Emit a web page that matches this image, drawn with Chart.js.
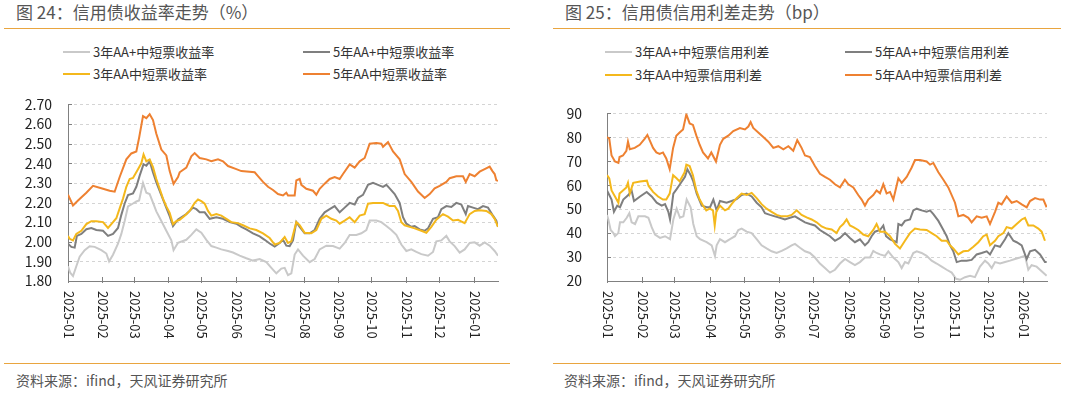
<!DOCTYPE html>
<html lang="zh-CN">
<head>
<meta charset="utf-8">
<title>信用债收益率与信用利差走势</title>
<script src="https://cdn.jsdelivr.net/npm/chart.js@4.4.1/dist/chart.umd.min.js"></script>
<style>
  html, body { margin: 0; padding: 0; background: #fff; }
  body { width: 1080px; height: 394px; position: relative; overflow: hidden;
         font-family: "Noto Sans CJK SC", "Noto Sans", sans-serif; color: #333; }
  .title { position: absolute; top: 0; font-size: 17px; line-height: 24px; color: #555; white-space: nowrap; }
  .rule { position: absolute; height: 1px; background: #e9a53f; }
  .lg { position: absolute; font-size: 13px; line-height: 16px; color: #333; white-space: nowrap; }
  .lg i { display: inline-block; width: 27px; height: 2px; vertical-align: middle; margin-right: 3px; position: relative; top: -1px; }
  .src { position: absolute; top: 371px; font-size: 14px; line-height: 18px; color: #555; white-space: nowrap; }
  canvas { position: absolute; }
</style>
</head>
<body>

<div class="title" style="left:16px;">图 24：信用债收益率走势（%）</div>
<div class="rule" style="left:4px; width:506px; top:28px;"></div>
<div class="lg" style="left:63px; top:44px;"><i style="background:#c9c9c9"></i>3年AA+中短票收益率</div>
<div class="lg" style="left:303px; top:44px;"><i style="background:#7f7f7f"></i>5年AA+中短票收益率</div>
<div class="lg" style="left:63px; top:66px;"><i style="background:#f4b81c"></i>3年AA中短票收益率</div>
<div class="lg" style="left:303px; top:66px;"><i style="background:#ee8131"></i>5年AA中短票收益率</div>
<canvas id="yieldChart" width="515" height="272" style="left:0; top:88px;"></canvas>
<div class="rule" style="left:4px; width:506px; top:363px;"></div>
<div class="src" style="left:16px;">资料来源：ifind，天风证券研究所</div>

<div class="title" style="left:565px;">图 25：信用债信用利差走势（bp）</div>
<div class="rule" style="left:553px; width:508px; top:28px;"></div>
<div class="lg" style="left:605px; top:44px;"><i style="background:#c9c9c9"></i>3年AA+中短票信用利差</div>
<div class="lg" style="left:845px; top:44px;"><i style="background:#7f7f7f"></i>5年AA+中短票信用利差</div>
<div class="lg" style="left:605px; top:67px;"><i style="background:#f4b81c"></i>3年AA中短票信用利差</div>
<div class="lg" style="left:845px; top:67px;"><i style="background:#ee8131"></i>5年AA中短票信用利差</div>
<canvas id="spreadChart" width="520" height="272" style="left:540px; top:88px;"></canvas>
<div class="rule" style="left:553px; width:508px; top:363px;"></div>
<div class="src" style="left:564px;">资料来源：ifind，天风证券研究所</div>

<script>
// x values are days since 2025-01-01
const monthDays = [0, 31, 59, 90, 120, 151, 181, 212, 243, 273, 304, 334, 365];
const monthLabels = ['2025-01', '2025-02', '2025-03', '2025-04', '2025-05', '2025-06', '2025-07',
                     '2025-08', '2025-09', '2025-10', '2025-11', '2025-12', '2026-01'];

const yieldTicks = [1.8, 1.9, 2.0, 2.1, 2.2, 2.3, 2.4, 2.5, 2.6, 2.7];
const spreadTicks = [20, 30, 40, 50, 60, 70, 80, 90];

// ---- 图24 收益率 (%) ----
const yld3AAplusX = [0,2,4.5,7.5,10.5,15,19.5,24,30,34.5,37,40.5,45,48,51,54,58.5,61.5,64,67.5,70.5,73.5,76.5,79.5,84,88.5,93,95,99,
  106.5,111,115.5,120,124.5,129,133.5,138,144,148.5,154.5,160.5,166.5,172.5,178.5,183,187.5,192,195,198,201,204,207,211.5,217.5,222,226.5,232.5,238.5,
  244.5,249,253.5,259.5,264,268.5,271.5,277.5,282,286.5,291,295.5,300,304.5,309,313.5,318,324,328.5,331.5,336,340.5,343.5,348,352.5,357,361.5,366,370.5,375,379.5,384,387];
const yld3AAplusY = [1.875,1.842,1.825,1.875,1.924,1.957,1.977,1.974,1.957,1.94,1.90,1.934,1.99,2.04,2.106,2.18,2.195,2.205,2.21,2.30,2.25,2.243,2.20,2.155,2.106,2.056,2.007,1.957,1.995,
  2.01,2.035,2.063,2.046,2.01,1.978,1.97,1.961,1.953,1.945,1.929,1.916,1.904,1.912,1.896,1.867,1.839,1.863,1.867,1.83,1.839,1.935,1.961,1.929,1.896,1.912,1.961,1.98,1.978,
  1.965,1.994,2.035,2.035,2.043,2.06,2.108,2.108,2.10,2.08,2.06,2.035,1.986,1.953,1.961,1.948,1.937,1.929,1.948,2.002,2.007,2.03,2.002,1.978,1.945,1.961,1.994,1.997,1.98,1.997,1.98,1.953,1.929];

const yld5AAplusX = [0,3,6,8,12,16.5,21,25.5,31.5,36,40.5,45,48,51,54,58.5,61.5,64.5,68,70.5,73.5,76.5,79.5,84,88.5,91.5,94.5,99,
  106.5,112.5,115.5,118.5,123,127.5,133.5,139.5,145.5,151.5,156,160.5,166.5,172.5,177,181.5,186,190.5,193.5,196.5,199.5,202.5,205.5,208.5,213,217.5,222,226.5,231,235.5,240,
  244.5,249,253.5,258,261,265.5,270,274.5,279,283.5,286.5,289.5,294,298.5,301.5,304.5,309,312,316.5,321,324,328.5,333,336,340.5,345,349.5,354,358,360,364.5,369,373.5,378,382.5,385.5,387];
const yld5AAplusY = [1.99,1.974,1.97,2.03,2.04,2.064,2.07,2.06,2.056,2.03,2.04,2.07,2.137,2.195,2.238,2.246,2.28,2.337,2.395,2.387,2.41,2.353,2.303,2.238,2.172,2.13,2.08,2.114,
  2.141,2.174,2.166,2.15,2.15,2.117,2.125,2.117,2.10,2.092,2.076,2.063,2.043,2.027,2.01,1.991,1.975,1.994,2.01,1.98,1.978,2.007,2.10,2.076,2.043,2.043,2.06,2.117,2.15,2.166,2.182,
  2.15,2.174,2.198,2.19,2.223,2.239,2.29,2.30,2.29,2.28,2.29,2.272,2.243,2.198,2.125,2.092,2.076,2.08,2.063,2.056,2.068,2.117,2.125,2.166,2.182,2.177,2.198,2.19,2.141,2.182,2.174,2.166,2.182,2.174,2.133,2.108,2.076];

const yld3AAX = [0,1.5,4.5,7.5,12,16.5,21,25.5,31.5,36,39,43.5,46.5,49.5,52.5,55.5,58.5,63,66,68,70.5,73.5,76.5,79.5,82.5,85.5,88.5,91.5,94.5,97.5,
  100.5,105,109.5,114,117,120,123,126,129,133.5,138,142.5,147,153,157.5,163.5,169.5,175.5,181.5,186,190.5,195,198,201,205.5,208.5,213,219,223.5,228,232.5,237,241.5,
  244.5,249,253.5,258,262.5,267,270,274.5,283.5,286.5,289.5,294,297,300,303,307.5,312,318,322.5,327,331.5,337.5,342,346.5,351,357,361.5,366,370.5,376.5,381,384,387];
const yld3AAY = [2.03,2.015,2.007,2.04,2.056,2.09,2.105,2.105,2.10,2.07,2.09,2.12,2.17,2.22,2.28,2.32,2.325,2.37,2.40,2.445,2.41,2.42,2.38,2.32,2.27,2.22,2.18,2.147,2.09,2.105,
  2.112,2.133,2.157,2.198,2.215,2.207,2.194,2.157,2.133,2.141,2.133,2.117,2.10,2.095,2.084,2.068,2.06,2.043,2.019,1.986,1.994,2.024,1.994,2.002,2.10,2.084,2.046,2.043,2.06,2.117,2.133,2.117,2.108,
  2.092,2.108,2.125,2.10,2.133,2.141,2.194,2.198,2.198,2.19,2.182,2.182,2.157,2.10,2.084,2.076,2.068,2.056,2.046,2.076,2.112,2.141,2.128,2.108,2.112,2.095,2.141,2.157,2.16,2.157,2.141,2.117,2.076];

const yld5AAX = [0,4.5,9,16.5,22.5,31.5,37.5,42,46.5,52.5,57,61.5,64,67.5,70.5,73.5,76.5,79.5,84,88.5,91.5,95,99,
  100.5,106.5,111,114,118.5,124.5,129,135,139.5,144,151.5,156,168,171,175.5,180,184.5,189,193.5,196.5,198,204,205.5,208.5,210,214.5,220.5,223.5,226.5,231,235.5,240,
  244.5,247.5,253.5,258,262.5,267,271.5,277.5,282,283.5,288,292.5,298.5,303,309,315,321,325.5,330,334.5,340.5,343.5,349.5,355.5,358,361.5,366,370.5,375,379.5,382,384,385.5,387];
const yld5AAY = [2.24,2.185,2.21,2.25,2.285,2.27,2.26,2.255,2.33,2.42,2.45,2.46,2.53,2.64,2.63,2.65,2.62,2.55,2.47,2.44,2.36,2.295,2.33,
  2.354,2.378,2.435,2.452,2.427,2.42,2.41,2.42,2.41,2.386,2.37,2.36,2.354,2.334,2.305,2.28,2.264,2.243,2.236,2.25,2.236,2.236,2.313,2.32,2.29,2.27,2.26,2.24,2.27,2.296,2.32,2.33,
  2.32,2.345,2.394,2.378,2.41,2.427,2.50,2.503,2.50,2.484,2.508,2.46,2.42,2.345,2.305,2.256,2.223,2.243,2.272,2.285,2.305,2.324,2.334,2.334,2.305,2.345,2.334,2.357,2.37,2.383,2.36,2.345,2.313,2.31];

// ---- 图25 信用利差 (bp) ----
const spr3AAplusX = [0,1.2,3.2,5.6,7,9.9,11.4,14.3,17.3,19.6,21.6,24.6,27.5,33.3,36.3,39.2,42.1,46.5,50.9,55.3,58.2,61.1,64,67,69.9,73.4,75.7,78.7,81.6,87.4,91.8,94.7,96.2,
  99.1,103.5,107.9,112.3,115.2,118.1,122.5,126.9,131.3,135.6,140,144.4,148.8,153.2,157.6,162,164.9,169.3,173.7,178,182.4,186.8,191.2,195.6,200,204.4,208.8,213.1,217.5,221.9,226.3,230.7,233.6,236.5,
  239.5,243.9,246.8,251.2,255.6,258.5,261.4,264.4,268.7,271.7,276,280.4,284.8,289.2,293.6,298,302.4,306.2,309.7,314.1,318.5,322.8,327.2,331.6,334.5,337.5,340.4,344.8,349.2,353.6,357.9,362.3,366.7,369.6,372.5,376.9,381.3,385.7];
const spr3AAplusY = [47.6,45.7,41.3,40,38.7,40,44.5,44.5,46.4,48.3,44.5,43.8,47,47,46.4,42.5,39.4,38,38.7,37.5,45.7,50.2,46.4,47,54,50.8,43.8,38.7,37.5,36.2,34.9,30.5,34.9,
  37.5,36.2,37.5,38.7,41.3,41.9,40.6,40,37.5,34.9,33.6,32.4,31.7,32.6,33.6,34.9,35.5,33.9,32.4,31.7,29.8,27.3,25.4,23.5,24.7,27.3,29.2,27.9,26.6,27.9,29.8,29.8,32.6,31.7,
  31.1,30.5,32.4,29.8,27.9,25.4,27.9,27.3,31.7,32.4,31.7,30.5,28.5,27.3,26,24.7,23.5,20.9,20.5,21.6,22.2,21.6,26,28.5,27.3,25.4,27.9,27.3,27.9,28.5,29.2,29.8,30.5,24.7,26.6,26,24.1,22.2];

const spr5AAplusX = [0,2,4,6.1,9,11.4,14.3,18.7,21.6,23.7,29,34.8,39.2,43.6,48,50.9,53.8,55.3,58.2,61.1,64,68.4,70.5,73.4,75.7,78.7,83.1,87.4,90.4,93.3,96.2,
  99.1,104.9,109.3,113.7,118.1,122.5,126.9,131.3,135.6,138.6,143,147.3,151.7,156.1,160.5,164.9,169.3,173.7,178,182.4,186.8,191.2,195.6,200,204.4,208.8,213.1,217.5,221.9,226.3,229.2,232.1,235.1,
  239.5,242.4,244.8,248.3,251.2,254.1,255.6,258.5,261.4,265.8,268.7,271.7,276,280.4,283.4,286.3,290.7,295.1,298,300.9,303.8,306.8,311.1,315.5,319.9,324.3,328.7,333.1,336,340.4,344.8,349.2,352.1,356.5,359.4,363.8,368.2,371.1,375.5,379.9,384.2,385.7];
const spr5AAplusY = [57.8,55.9,54,48.9,51.5,50.8,54,55.9,57.8,53.4,55.3,57.2,55.3,52.7,51.5,52.1,48.9,45.7,56.5,58.4,60.4,63.5,66.7,64.2,61.6,56.5,51.5,50.8,50.8,54,49.5,
  53.4,52.7,53.4,54.2,55.9,56.5,55.3,52.7,50.8,48.3,47.6,47,46.4,45.7,46.4,47,45.7,44.5,43.8,43.2,41.3,40,38.7,36.8,38,40,38,36.2,37.4,34.9,36.2,38.7,40.6,
  41.3,43.2,38.7,37.4,36.8,36.2,43.8,43.2,45.1,45.7,49.5,50.2,49.5,48.9,49.5,47.9,45.1,41.3,38.7,34.9,32.4,27.9,28.5,28.5,28.8,31.1,31.7,32.4,31.1,34.9,34.3,37.4,40,36.8,36.2,34.9,29.2,32.4,33,31.1,27.9,27.9];

const spr3AAX = [0,2,4,7,10,11,14,17,18.4,20,23,29,35,36.5,40.4,44.8,49.1,52,55,58,61,63.7,68.1,69.6,72.5,75.4,78.4,81.3,84.2,87.1,90.1,93,94.5,95.9,
  99.1,103.5,106.4,109.3,113.7,118.1,122.5,126.9,131.3,135.6,140,144.4,148.8,153.2,157.6,162,166.4,170.7,175.1,179.5,183.9,188.3,192.7,197.1,201.4,204.4,207.3,210.2,213.1,216.1,220.4,224.8,229.2,233.6,236.5,
  239.5,243.9,248.3,252.7,257,261.4,265.8,270.2,274.6,280.4,284.8,289.2,293.6,298,300.9,303.8,308.2,312.6,317,321.4,325.8,330.1,333.1,336,340.4,343.3,347.7,350.6,355,359.4,363.8,366.7,369.6,374,378.4,381.3,384.2];
const spr3AAY = [64.2,62.9,57.8,55.3,52.7,56.5,57.8,59.1,61,56.5,61,61.6,61.9,59.7,57.2,55.3,54,54,56.5,64.2,62.9,61.6,65.4,68.6,68,64.2,57.8,54,51.5,49.5,50.2,49.5,43.2,48.9,
  51.5,49.5,50.2,52.1,54.6,56.5,55.9,56.8,54.6,52.1,50.2,48.9,47.6,47,47,47.6,49.5,47.6,46.6,45.7,44.5,42.8,41.9,41.5,40,42.5,43.8,45.7,43.2,42.5,41.3,39.4,38.7,41.3,43.8,
  40.6,40.6,38.7,35.5,33.6,36.8,40,41.9,41.5,41.3,40,38.7,36.8,36.8,34.9,33.6,31.1,32.4,32.6,34.3,36.2,38.7,39.4,34.9,36.8,38.7,40,42.5,41.9,43.8,45.7,46.4,43.2,43.2,41.9,40.6,36.8];

const spr5AAX = [0,2,4,7,10,11,14,17,18.4,20,24.3,28.7,33,35.4,37.4,40.4,43.3,46.2,49.1,52,55,58,60.8,63.7,66.7,69.6,72.5,75.4,78.4,81.3,84.2,88.6,91.5,95.6,
  99.1,102,106.4,110.8,116.6,121,124,126,128.3,132.7,137.1,141.5,145.9,150.3,154.7,159.1,163.4,166.9,170.7,173.7,178,182.4,186.8,191.2,195.6,200,204.4,208.7,211.7,216.1,220.4,223.4,226.3,229.2,233.6,236.5,
  239.5,242.4,245.3,248.3,251.2,255.6,258.5,262.9,267.3,270.2,274.6,280.4,283.4,286.3,290.7,295.1,299.4,305.3,308.2,312.6,317,319.9,324.3,328.7,333.1,336,340.4,343.3,346.2,350.6,355,359.4,363.8,368.2,371.1,375.5,379.9,382.8,385.7];
const spr5AAY = [80.1,79.4,72.4,69.9,69.3,71.8,72.4,74.4,78.2,75,75.6,76.9,79.4,81,78.8,75.6,73.7,73.1,73.7,71.2,66.7,75.6,80.7,82,83.3,89.6,85.8,85.2,80.7,76.9,73.7,71.2,73.7,69.9,
  76.9,79.4,80.7,82.6,83.9,83.3,84.5,86.4,83.9,82,80.1,78.2,75.6,76.3,75,76.3,74.4,78.8,75.6,72.4,71.8,68,64.8,63.5,62.3,60.4,59.1,62.3,60.4,59.1,55.9,54,51.5,54,55.9,57.8,
  56.6,60.4,56.6,57.2,54,62.9,61,63.5,67.4,70.5,70.5,69.9,68.6,69.3,65.4,62.3,59.1,52.7,47,47.6,46.4,44.5,47,46.4,47,43.8,48.9,52.7,52,55.3,52.7,53.4,52,50.8,53.4,54.6,54,54,50.8];

const FONT = '"Noto Sans CJK SC", "Noto Sans", sans-serif';
const LIGHT = '#c9c9c9', DARK = '#7f7f7f', YELLOW = '#f4b81c', ORANGE = '#ee8131';
const AXIS = '#808080';
const GRID = '#d4d4d4';

Chart.defaults.font.family = FONT;
Chart.defaults.color = '#222';

const pts = (xs, ys) => xs.map((x, i) => ({ x, y: ys[i] }));

// faint dashed gridlines + short inner ticks on the y axis, under the series
const dashedGrid = {
  id: 'dashedGrid',
  beforeDatasetsDraw(chart, args, opts) {
    const { ctx, chartArea } = chart;
    const ys = chart.scales.y;
    ctx.save();
    opts.values.forEach(v => {
      const py = Math.round(ys.getPixelForValue(v));
      ctx.fillStyle = GRID;
      for (let x = chartArea.left + 6; x < chartArea.right; x += 6) {
        ctx.fillRect(x, py, Math.min(3, chartArea.right - x), 1);
      }
      ctx.fillStyle = AXIS;
      ctx.fillRect(chartArea.left, py, 4, 1);
    });
    ctx.restore();
  }
};

// month tick marks + vertical (clockwise) labels
const monthAxis = {
  id: 'monthAxis',
  afterDraw(chart) {
    const { ctx, chartArea } = chart;
    const xs = chart.scales.x;
    ctx.save();
    ctx.strokeStyle = AXIS;
    ctx.lineWidth = 1;
    ctx.fillStyle = '#222';
    ctx.font = '13px ' + FONT;
    monthDays.forEach((d, i) => {
      const px = Math.round(xs.getPixelForValue(d)) + 0.5;
      ctx.beginPath();
      ctx.moveTo(px, chartArea.bottom - 4);
      ctx.lineTo(px, chartArea.bottom + 2);
      ctx.stroke();
      ctx.save();
      ctx.translate(px, chartArea.bottom + 10);
      ctx.rotate(Math.PI / 2);
      ctx.textAlign = 'left';
      ctx.textBaseline = 'middle';
      ctx.fillText(monthLabels[i], 0, 0);
      ctx.restore();
    });
    ctx.restore();
  }
};

function makeChart(id, series, yTicks, fmt, xMax, axisW, padRight, padTop, tickPad) {
  return new Chart(document.getElementById(id), {
    type: 'line',
    data: {
      datasets: series.map(s => ({
        data: pts(s.x, s.y),
        borderColor: s.color,
        borderWidth: 2,
        pointRadius: 0,
        tension: 0,
        fill: false
      }))
    },
    options: {
      responsive: false,
      animation: false,
      devicePixelRatio: 1,
      layout: { padding: { top: padTop, right: padRight, left: 0, bottom: 0 } },
      plugins: {
        legend: { display: false },
        tooltip: { enabled: false },
        dashedGrid: { values: yTicks.slice(1) }
      },
      scales: {
        x: {
          type: 'linear',
          min: 0,
          max: xMax,
          ticks: { display: false },
          grid: { display: false },
          border: { display: true, color: AXIS, width: 1 },
          afterFit: s => { s.height = 79; }
        },
        y: {
          min: yTicks[0],
          max: yTicks[yTicks.length - 1],
          afterBuildTicks: s => { s.ticks = yTicks.map(v => ({ value: v })); },
          ticks: { callback: fmt, padding: tickPad, font: { size: 14 }, color: '#222', autoSkip: false },
          grid: { display: false },
          border: { display: true, color: AXIS, width: 1 },
          afterFit: s => { s.width = axisW; }
        }
      }
    },
    plugins: [dashedGrid, monthAxis]
  });
}

// first dataset is drawn on top
makeChart('yieldChart', [
  { x: yld5AAX, y: yld5AAY, color: ORANGE },
  { x: yld3AAX, y: yld3AAY, color: YELLOW },
  { x: yld5AAplusX, y: yld5AAplusY, color: DARK },
  { x: yld3AAplusX, y: yld3AAplusY, color: LIGHT }
], yieldTicks, v => Number(v).toFixed(2), 387, 68, 17, 10, 8);

makeChart('spreadChart', [
  { x: spr5AAX, y: spr5AAY, color: ORANGE },
  { x: spr3AAX, y: spr3AAY, color: YELLOW },
  { x: spr5AAplusX, y: spr5AAplusY, color: DARK },
  { x: spr3AAplusX, y: spr3AAplusY, color: LIGHT }
], spreadTicks, v => String(v), 386, 67, 13, 9, 17);
</script>
</body>
</html>
